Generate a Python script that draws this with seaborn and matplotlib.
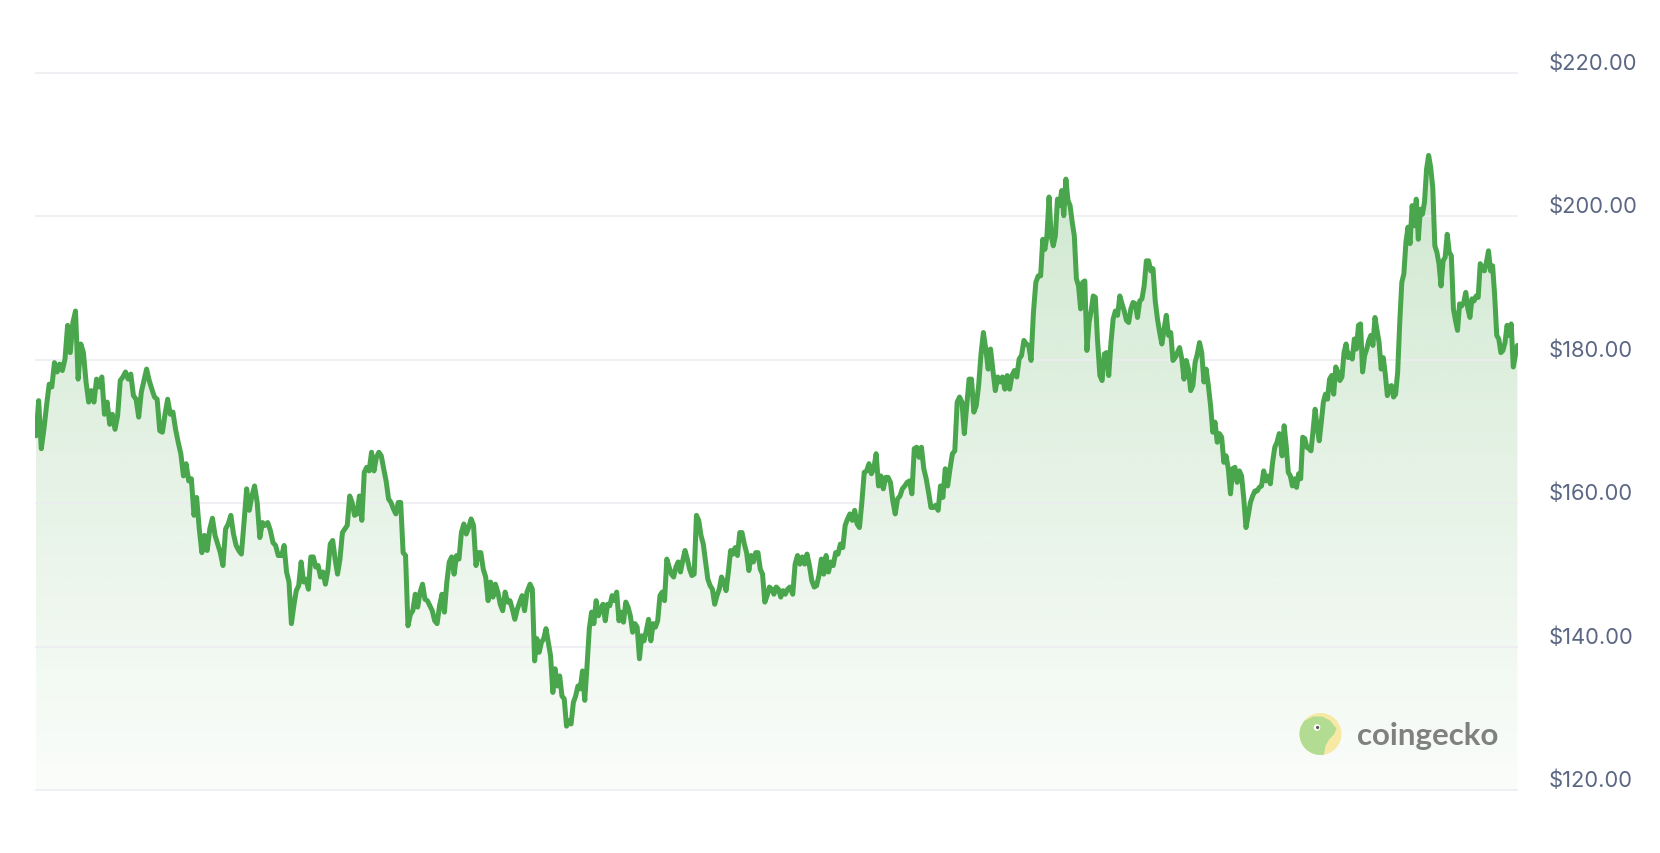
import numpy as np
import pandas as pd
import seaborn as sns
import matplotlib.pyplot as plt
from matplotlib import transforms
from matplotlib.patches import Circle, Polygon

# price series, in seven consecutive pieces (days since start)
seg_a = [169.4, 174.3, 167.6, 170.3, 173.6, 176.6, 176.2, 179.6, 178.3, 179.4, 178.5, 180.1,
         184.8, 181.0, 185.2, 186.8, 177.3, 182.2, 181.0, 176.9, 174.1, 175.7, 174.1, 177.3,
         176.2, 177.6, 172.4, 174.1, 171.0, 172.4, 170.3, 172.2, 177.1, 177.6, 178.3, 177.3,
         178.0, 175.0, 174.5, 172.0, 175.5, 177.1, 178.7, 177.1, 175.9, 174.8, 174.5, 170.1,
         169.9, 172.4, 174.5, 172.4, 172.7, 170.3, 168.5, 166.9, 163.8, 165.5, 163.1, 163.4,
         158.3, 160.8, 156.4, 153.1, 155.5, 153.4, 156.4, 157.9, 155.5, 154.3, 153.1, 151.3,
         156.4, 157.1, 158.3, 155.7, 154.1, 153.4, 152.9, 157.3, 162.0, 159.0, 161.0, 162.4,
         160.1, 155.2, 157.3, 156.9, 157.3, 156.2, 154.5, 154.1, 152.7]
seg_b = [152.7, 154.1, 150.4, 149.0, 143.2, 145.7, 147.8, 148.5, 151.8, 149.0, 149.4, 148.0,
         152.5, 152.5, 151.1, 151.3, 149.7, 150.4, 148.7, 150.6, 154.3, 154.8, 152.2, 150.1,
         152.2, 155.9, 156.4, 156.9, 161.0, 160.1, 158.3, 158.5, 161.0, 157.6, 164.3, 165.0,
         164.5, 167.1, 164.5, 166.4, 167.1, 166.6, 164.8, 163.1, 160.6, 160.1, 159.2, 158.5,
         160.1, 160.1, 153.1, 152.7, 142.9, 144.5, 145.0, 147.3, 145.5, 147.6, 148.7, 146.6,
         146.4, 145.7, 145.0, 143.6, 143.2, 145.7, 147.3, 144.8, 149.0, 151.8, 152.5, 150.1,
         152.7, 152.2, 155.9, 157.1, 155.7, 156.6, 157.8, 156.9, 151.3, 153.1, 153.1, 150.8,
         149.7, 146.4, 149.0, 146.9, 148.7, 147.6, 145.9, 145.0, 147.6, 146.2, 146.4, 145.2,
         143.8, 145.2, 146.2, 147.1, 145.0, 147.6, 148.5]
seg_c = [148.7, 148.0, 138.0, 141.1, 139.2, 140.6, 141.1, 142.5, 140.6, 138.7, 133.6, 136.9,
         134.5, 135.9, 133.1, 132.7, 128.9, 129.7, 129.2, 132.2, 133.1, 134.5, 134.1, 136.6,
         132.5, 137.3, 142.5, 144.8, 143.2, 146.4, 144.3, 145.2, 145.9, 143.6, 145.9, 145.7,
         147.1, 146.4, 147.6, 143.6, 144.8, 143.4, 146.2, 145.5, 144.3, 142.0, 143.2, 142.7,
         138.3, 141.5, 140.8, 142.2, 143.8, 140.8, 143.2, 142.7, 143.6, 147.1, 147.6, 146.4,
         152.2, 151.1, 150.1, 149.7, 151.1, 151.8, 150.4, 152.0, 153.4, 152.2, 150.8, 149.9,
         150.1, 158.3, 157.6, 155.5, 154.3, 151.8, 149.4, 148.5, 148.0, 145.9, 147.1, 148.0,
         149.7, 149.0, 147.8, 150.4, 153.4, 152.9, 153.8, 152.7, 155.9, 155.9, 154.3, 153.1,
         150.6, 152.7, 151.8, 153.1, 153.1, 150.8, 150.1, 146.2, 147.1, 148.3, 148.0, 147.3,
         148.3, 148.0, 146.9, 147.8, 147.3, 148.0, 148.3]
seg_d = [147.3, 151.5, 152.7, 151.5, 152.5, 151.5, 152.9, 151.3, 149.2, 148.3, 148.5, 149.9,
         152.2, 150.1, 152.7, 150.4, 151.8, 151.3, 153.1, 152.9, 154.3, 153.8, 156.9, 157.8,
         158.5, 157.6, 159.0, 157.1, 156.6, 160.1, 164.3, 164.5, 165.5, 164.1, 164.8, 166.9,
         162.4, 163.8, 162.0, 163.6, 163.6, 162.9, 160.3, 158.5, 160.6, 161.0, 162.0, 162.4,
         162.9, 163.1, 161.3, 167.6, 167.8, 166.4, 167.8, 164.8, 163.4, 161.5, 159.4, 159.4,
         159.7, 159.0, 162.4, 160.8, 164.8, 162.4, 164.8, 166.9, 167.3, 174.1, 174.8, 174.1,
         169.7, 173.6, 177.3, 177.3, 172.7, 173.6, 176.4, 180.8, 183.8, 181.5, 178.7, 181.5,
         178.5, 175.7, 177.6, 176.9, 177.6, 175.9, 177.8, 175.9, 177.8, 178.5, 177.6, 180.1,
         180.6, 182.7, 182.2, 182.0, 179.9, 186.6, 190.8, 191.7]
seg_e = [191.7, 196.8, 195.4, 197.3, 202.7, 197.3, 195.9, 197.3, 202.4, 201.5, 203.6, 200.1,
         205.2, 202.2, 201.5, 199.2, 197.3, 191.3, 190.3, 187.1, 190.8, 191.0, 181.3, 185.2,
         186.8, 188.9, 188.7, 182.9]
seg_f = [177.8, 177.1, 180.8, 181.0, 177.8, 182.4, 185.7, 186.8, 186.2, 188.9, 187.8, 186.8,
         185.5, 185.2, 187.1, 188.0, 187.8, 185.9, 188.2, 188.5, 190.3, 193.8, 193.8, 192.4,
         192.7, 188.2, 185.7, 183.8, 182.2, 184.3, 186.2, 183.4, 183.8, 179.9, 180.3, 181.0,
         181.7, 180.1, 177.3, 179.9, 178.7, 175.7, 176.4, 179.6, 180.8, 182.4, 181.0, 176.9,
         178.7, 176.4, 173.6, 169.9, 171.3, 168.5, 169.7, 169.2, 165.7, 166.6, 164.8, 161.3,
         164.8, 165.0, 162.9, 164.5, 163.8, 160.6, 156.6, 158.3, 160.1, 161.0, 161.7, 161.7,
         162.2, 162.4, 164.5, 163.1, 163.8, 162.7, 165.7, 167.8, 168.5, 169.7]
seg_g = [169.4, 166.6, 170.8, 168.0, 164.3, 163.8, 162.4, 163.4, 162.2, 164.1, 163.4, 169.2,
         169.0, 167.8, 167.6, 167.3, 170.1, 173.1, 170.6, 168.7, 171.3, 174.1, 175.2, 174.5,
         177.3, 177.8, 175.2, 179.0, 178.3, 177.1, 177.6, 181.0, 182.2, 180.3, 180.8, 180.1,
         182.9, 181.5, 184.8, 185.0, 178.3, 180.6, 181.5, 182.7, 183.4, 182.0, 185.9, 184.1,
         182.4, 178.7, 180.3, 178.0, 175.0, 176.2, 176.4, 174.8, 175.2, 178.3, 185.2, 190.8,
         192.0, 196.4, 198.5, 196.2, 201.5, 198.7, 202.4, 196.8, 201.0, 200.3, 202.0, 206.6,
         208.5, 206.8, 204.0, 195.9, 195.0, 193.4, 190.3, 193.8, 194.3, 197.5, 195.0, 194.5,
         187.1, 185.5, 184.1, 187.8, 187.5, 188.0, 189.4, 187.1, 185.9, 188.5, 188.2, 188.9,
         188.7, 193.4, 192.7, 192.4, 193.6, 195.2, 192.4, 193.1, 188.9, 183.4, 182.9, 181.0,
         181.3, 182.4, 184.8, 183.4, 185.0, 179.0, 180.6, 182.0]

segments = [seg_a, seg_b, seg_c, seg_d, seg_e, seg_f, seg_g]
seg_days = [(0.0, 59.7), (60.55, 121.6), (121.76, 185.8), (186.5, 247.0),
            (247.6, 261.6), (262.2, 306.4), (306.6, 365.1)]

price_ticks = [120, 140, 160, 180, 200, 220]

frames = []
for vals, (d0, d1) in zip(segments, seg_days):
    frames.append(pd.DataFrame({'day': np.linspace(d0, d1, len(vals)), 'price': vals}))
df = pd.concat(frames, ignore_index=True)

green = '#4aa64c'
green_rgb = (76 / 255, 167 / 255, 77 / 255)

sns.set_style('white')
plt.rcParams['font.family'] = ['Inter', 'DejaVu Sans']

fig = plt.figure(figsize=(16.6, 8.54), dpi=100)
ax = fig.add_axes([35 / 1660, 54 / 854, 1483 / 1660, 740 / 854])
ylo, yhi = 118.74, 221.95
xlo, xhi = -0.25, 365.25

# gradient fill under the line
poly = ax.fill_between(df['day'], df['price'], price_ticks[0], facecolor='none', edgecolor='none')
levels = np.linspace(ylo, yhi, 256)
rgba = np.zeros((256, 1, 4))
rgba[:, 0, :3] = green_rgb
rgba[:, 0, 3] = np.clip(0.161 + 0.00271 * (levels - 170), 0, 1)
im = ax.imshow(rgba, extent=[xlo, xhi, ylo, yhi], origin='lower', aspect='auto',
               interpolation='bilinear', zorder=1)
im.set_clip_path(poly.get_paths()[0], ax.transData)

for t in price_ticks:
    ax.axhline(t, color='#ececf1', lw=1.1, zorder=2)

sns.lineplot(data=df, x='day', y='price', color=green, lw=3.6, ax=ax, zorder=3,
             solid_joinstyle='round', solid_capstyle='round')

ax.set_xlim(xlo, xhi)
ax.set_ylim(ylo, yhi)
ax.set_xticks([])
ax.set_yticks([])
ax.set_xlabel('')
ax.set_ylabel('')
for s in ax.spines.values():
    s.set_visible(False)

lab_tr = transforms.blended_transform_factory(ax.transAxes, ax.transData) + \
    transforms.ScaledTranslation(0, 4 / 100, fig.dpi_scale_trans)
for t in price_ticks:
    ax.text(1.0209, t, f'${t:.2f}', transform=lab_tr, ha='left', va='baseline',
            fontsize=15.8, color='#5b6783')

# coingecko watermark
lax = fig.add_axes([0, 0, 1, 1])
lax.set_xlim(0, 1660)
lax.set_ylim(854, 0)
lax.axis('off')
badge = Circle((1320.5, 735), 21, fc='#f7e9a4', ec='none')
lax.add_patch(badge)
gecko = Polygon([(1297, 733), (1304, 722), (1313, 717.5), (1322, 717.5), (1330, 721.5),
                 (1336.5, 729.5), (1334, 735.5), (1329, 740.5), (1325.5, 747), (1323.5, 758),
                 (1297, 758)], closed=True, fc='#b2dc92', ec='none')
lax.add_patch(gecko)
gecko.set_clip_path(badge)
lax.add_patch(Circle((1317, 728.5), 3.3, fc='white', ec='none'))
lax.add_patch(Circle((1317.6, 728.5), 1.6, fc='#555555', ec='none'))
lax.text(1357, 736, 'coingecko', fontfamily='Lato', fontweight='bold', fontsize=22.5,
         color='#808080', ha='left', va='center')

fig.savefig('out.png', dpi=100, facecolor='white')
